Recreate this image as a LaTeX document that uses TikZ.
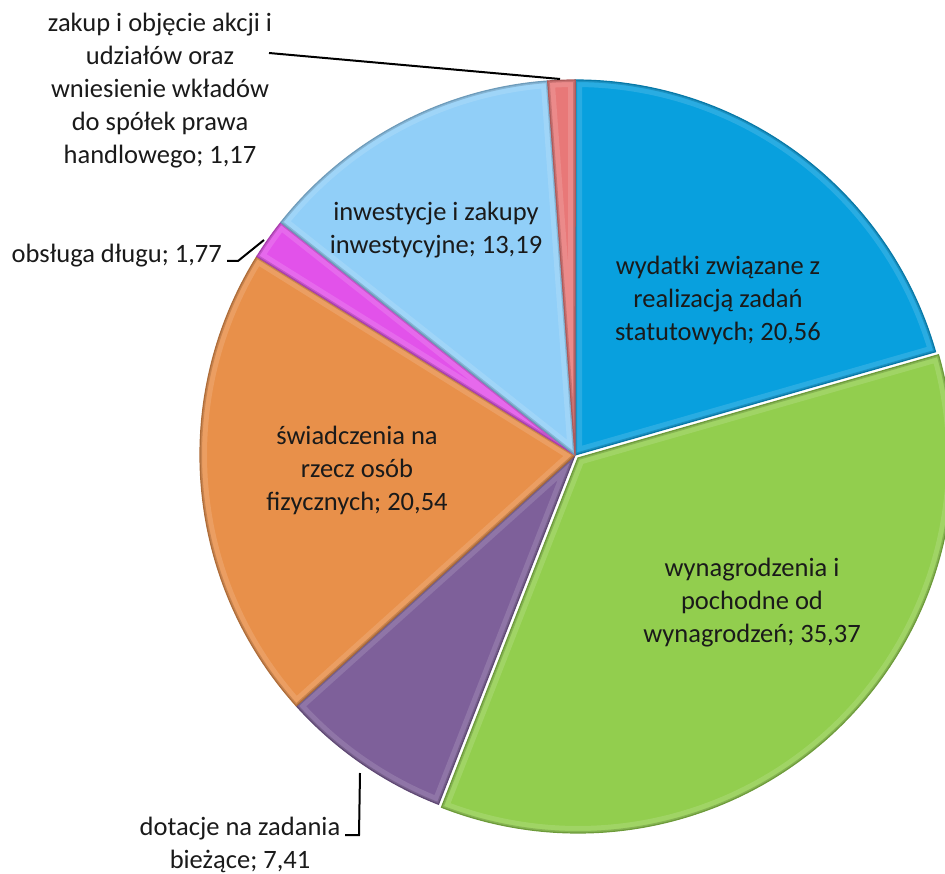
\documentclass[tikz,border=0pt]{standalone}
\usepackage{fontspec}
\setmainfont{Carlito}
\definecolor{cblue}{RGB}{8,160,222}
\definecolor{cgreen}{RGB}{146,206,78}
\definecolor{cpurple}{RGB}{126,96,154}
\definecolor{corange}{RGB}{232,144,74}
\definecolor{cmag}{RGB}{226,82,234}
\definecolor{clblue}{RGB}{145,207,248}
\definecolor{cpink}{RGB}{232,120,120}
\definecolor{ctext}{RGB}{26,26,26}
\begin{document}
\begin{tikzpicture}[x=1pt,y=-1pt,
  lbl/.style={align=center,text=ctext,font=\fontsize{26.5}{33}\selectfont,inner sep=0pt},
  lead/.style={draw=black,line width=2pt},
  slice/.style={line width=1.2pt}]
\useasboundingbox (0,0) rectangle (945,874);
\coordinate (c) at (575,455);
\def\R{375}
\newcommand{\sliceshape}[3]{(#3) -- ++({cos(#1)*\R},{-sin(#1)*\R}) arc[start angle={-(#1)},end angle={-(#2)},radius=\R] -- cycle}
\newcommand{\pieslice}[4]{%
  \fill[#3] \sliceshape{#1}{#2}{#4};
  \begin{scope}
    \clip \sliceshape{#1}{#2}{#4};
    \draw[#3!70!white,line width=14pt,opacity=0.45] \sliceshape{#1}{#2}{#4};
    \draw[#3!60!black,line width=4pt,opacity=0.35] \sliceshape{#1}{#2}{#4};
  \end{scope}
  \draw[#3!75!black,slice] \sliceshape{#1}{#2}{#4};
}
\coordinate (cg) at (578,458);
\pieslice{90}{15.984}{cblue}{c}
\pieslice{15.984}{-111.348}{cgreen}{cg}
\pieslice{-111.348}{-138.024}{cpurple}{c}
\pieslice{-138.024}{-211.968}{corange}{c}
\pieslice{-211.968}{-218.34}{cmag}{c}
\pieslice{-218.34}{-265.824}{clblue}{c}
\pieslice{-265.824}{-270.036}{cpink}{c}

% interior labels
\node[lbl] (wyd) at (718,300) {wydatki związane z\\realizacją zadań\\statutowych; 20,56};
\node[lbl] (wyn) at (752,603) {wynagrodzenia i\\pochodne od\\wynagrodzeń; 35,37};
\node[lbl] (swi) at (357,470) {świadczenia na\\rzecz osób\\fizycznych; 20,54};
\node[lbl] (inw) at (436,230) {inwestycje i zakupy\\inwestycyjne; 13,19};

% outside labels
\node[lbl] (zak) at (160,91) {zakup i objęcie akcji i\\udziałów oraz\\wniesienie wkładów\\do spółek prawa\\handlowego; 1,17};
\node[lbl,anchor=east] (obs) at (222,256) {obsługa długu; 1,77};
\node[lbl] (dot) at (240,845) {dotacje na zadania\\bieżące; 7,41};

% leader lines
\coordinate (zakA) at (269,53);
\coordinate (zakB) at (560,79);
\draw[lead] (zakA) -- (zakB);
\coordinate (obsA) at (227,261);
\coordinate (obsB) at (238,261);
\coordinate (obsC) at (264,240);
\draw[lead] (obsA) -- (obsB) -- (obsC);
\coordinate (dotA) at (345,835);
\coordinate (dotB) at (359,835);
\coordinate (dotC) at (360,773);
\draw[lead] (dotA) -- (dotB) -- (dotC);
\end{tikzpicture}
\end{document}
